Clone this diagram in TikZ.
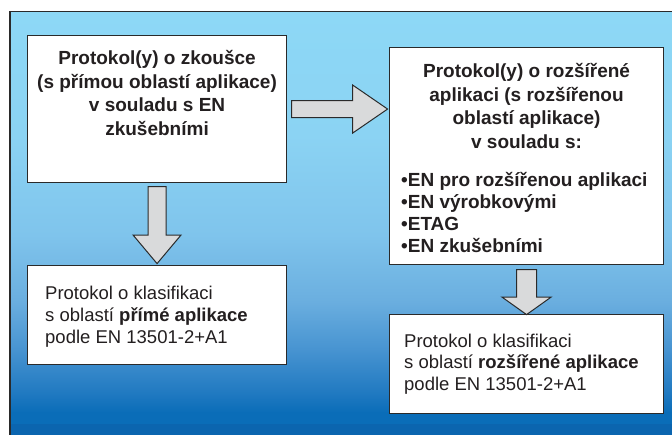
\documentclass[tikz,border=0pt]{standalone}
\usepackage{fontspec}
\setmainfont{Liberation Sans}
\usetikzlibrary{positioning,calc,shapes.arrows}
\definecolor{textc}{HTML}{231F20}
\definecolor{linec}{HTML}{2A2A2A}
\definecolor{arrowc}{HTML}{D9DADB}
\definecolor{bgA}{HTML}{8DD8F6}
\definecolor{bgB}{HTML}{8BD3F3}
\definecolor{bgC}{HTML}{7FC4EC}
\definecolor{bgD}{HTML}{6AAEDF}
\definecolor{bgE}{HTML}{4592D0}
\definecolor{bgF}{HTML}{1E78C0}
\definecolor{bgG}{HTML}{0A6DB8}
\definecolor{bgH}{HTML}{0B65AF}
\tikzset{
  box/.style={draw=linec, fill=white, line width=1.1pt, inner sep=0pt, anchor=north west},
  boldtext/.style={text=textc, font=\bfseries\fontsize{19}{23.4}\selectfont, inner sep=0pt},
  plaintext/.style={text=textc, font=\fontsize{18.5}{21.8}\selectfont, inner sep=0pt, align=left, anchor=north west},
  blockarrow/.style={single arrow, draw=linec, fill=arrowc, line width=1pt, inner xsep=0pt, anchor=tail}
}
\begin{document}
\begin{tikzpicture}[x=1pt,y=-1pt]
\useasboundingbox (0,0) rectangle (672,434);
% pozadi
\foreach \ya/\yb/\ca/\cb in {11.5/135.5/bgA/bgB, 135/235.5/bgB/bgC, 235/302.5/bgC/bgD,
    302/352.5/bgD/bgE, 352/395.5/bgE/bgF, 395/412.5/bgF/bgG, 412/424.5/bgG/bgG}
  \shade[top color=\ca, bottom color=\cb] (10,\ya) rectangle (680,\yb);
\fill[bgH] (10,424) rectangle (680,445);
\draw[linec, line width=1.5pt] (680,11.5) -- (10,11.5) -- (10,445);
% ramecky
\node[box, minimum width=259, minimum height=147] (zk) at (27,35) {};
\node[box, minimum width=274, minimum height=217] (roz) at (389,47) {};
\node[box, minimum width=259, minimum height=99] (kl1) at (27,265) {};
\node[box, minimum width=274, minimum height=99] (kl2) at (389,314) {};
% texty
\node[boldtext, align=center, anchor=north] (zktext) at ([yshift=-15.5pt]zk.north)
  {Protokol(y) o zkoušce\\(s přímou oblastí aplikace)\\v souladu s EN\\zkušebními};
\node[boldtext, align=center, anchor=north] (roztext) at ([yshift=-16.5pt]roz.north)
  {Protokol(y) o rozšířené\\aplikaci (s rozšířenou\\oblastí aplikace)\\v souladu s:};
\node[boldtext, font=\bfseries\fontsize{19}{21.9}\selectfont, align=left, anchor=north west] (rozlist)
  at ([xshift=12pt,yshift=-125pt]roz.north west)
  {•EN pro rozšířenou aplikaci\\•EN výrobkovými\\•ETAG\\•EN zkušebními};
\node[plaintext] (kl1text) at ([xshift=18pt,yshift=-21pt]kl1.north west)
  {Protokol o klasifikaci\\s oblastí \textbf{přímé aplikace}\\podle EN 13501-2+A1};
\node[plaintext] (kl2text) at ([xshift=15pt,yshift=-19.5pt]kl2.north west)
  {Protokol o klasifikaci\\s oblastí \textbf{rozšířené aplikace}\\podle EN 13501-2+A1};
% sipky
\node[blockarrow, minimum height=96, inner ysep=8pt, single arrow head extend=15.5,
  single arrow tip angle=69] (sipka1) at ([xshift=4pt]zk.east) {};
\node[blockarrow, rotate=-90, minimum height=77, inner ysep=8.5pt, single arrow head extend=15,
  single arrow tip angle=80] (sipka2) at ([yshift=-3pt]zk.south) {};
\node[blockarrow, rotate=-90, minimum height=45, inner ysep=9.5pt, single arrow head extend=14.5,
  single arrow tip angle=109] (sipka3) at ([yshift=-4pt]roz.south) {};
\end{tikzpicture}
\end{document}
